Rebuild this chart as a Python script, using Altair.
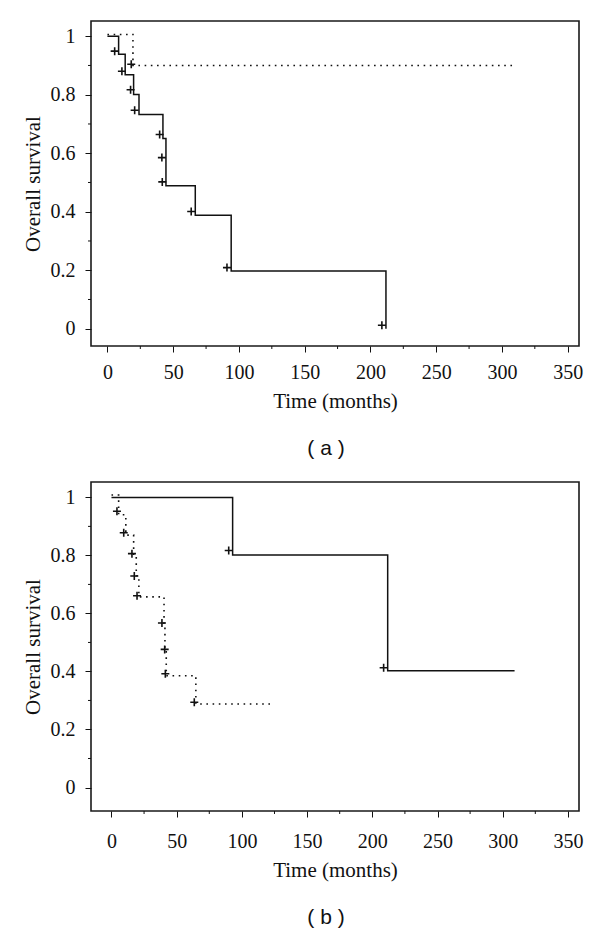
import altair as alt
import pandas as pd

# ---------------- data ----------------
x_major = [0, 50, 100, 150, 200, 250, 300, 350]
x_minor = [25, 75, 125, 175, 225, 275, 325]
y_major = [0, 0.2, 0.4, 0.6, 0.8, 1]
y_minor = [0.1, 0.3, 0.5, 0.7, 0.9]

# Panel (a)
a_solid_t = [0, 8.5, 13.5, 19.9, 24.0, 42.2, 44.5, 66.8, 94.1, 211.8]
a_solid_s = [1.0, 0.938, 0.868, 0.801, 0.732, 0.650, 0.489, 0.388, 0.197, 0.0]
a_dot_t = [0, 19.4, 308.4]
a_dot_s = [1.006, 0.900, 0.900]
a_cens_t = [5.5, 11.0, 17.6, 20.7, 39.7, 41.4, 41.7, 63.7, 90.9, 208.7, 18.1]
a_cens_s = [0.949, 0.880, 0.817, 0.747, 0.664, 0.585, 0.502, 0.401, 0.209, 0.012, 0.904]

# Panel (b)
b_solid_t = [0, 92.9, 211.8, 309.1]
b_solid_s = [1.0, 0.801, 0.402, 0.402]
b_dot_t = [0, 5.5, 11.0, 17.0, 19.0, 21.0, 40.3, 41.0, 42.0, 64.7, 122.0]
b_dot_s = [1.008, 0.94, 0.87, 0.80, 0.73, 0.657, 0.566, 0.475, 0.385, 0.288, 0.288]
b_cens_t = [4.2, 9.4, 15.7, 17.5, 19.6, 38.7, 40.8, 41.3, 63.5, 89.9, 208.7]
b_cens_s = [0.952, 0.878, 0.806, 0.729, 0.661, 0.567, 0.476, 0.392, 0.294, 0.817, 0.413]

SERIF = "Liberation Serif"
W = 488
PLUS = "M-1,0L1,0M0,-1L0,1"


def panel(solid_t, solid_s, dot_t, dot_s, cens_t, cens_s, xdom, ydom, h, caption,
          lab_pad, cap_offset):
    xs = alt.Scale(domain=xdom, nice=False, zero=False)
    ys = alt.Scale(domain=ydom, nice=False, zero=False)

    solid = pd.DataFrame({"t": solid_t, "s": solid_s})
    dot = pd.DataFrame({"t": dot_t, "s": dot_s})
    cens = pd.DataFrame({"t": cens_t, "s": cens_s})
    xmin = pd.DataFrame({"t": x_minor})
    ymin = pd.DataFrame({"s": y_minor})

    xaxis = alt.Axis(values=x_major, title="Time (months)", format="d",
                     tickSize=6, labelPadding=lab_pad, titlePadding=8)
    yaxis = alt.Axis(values=y_major, title="Overall survival",
                     labelExpr="datum.value == 0 ? '0' : datum.value == 1 ? '1' : format(datum.value, '.1f')",
                     tickSize=6, labelPadding=10, titlePadding=7)
    X = alt.X("t:Q", scale=xs, axis=xaxis, title="Time (months)")
    Y = alt.Y("s:Q", scale=ys, axis=yaxis, title="Overall survival")

    l_solid = alt.Chart(solid).mark_line(
        interpolate="step-after", color="#111", strokeWidth=1.5
    ).encode(x=X, y=Y)
    l_dot = alt.Chart(dot).mark_line(
        interpolate="step-after", color="#111", strokeWidth=1.6, strokeDash=[1.6, 4.6]
    ).encode(x=X, y=Y)
    l_cens = alt.Chart(cens).mark_point(
        shape=PLUS, size=64, filled=False, color="#111", strokeWidth=1.6, opacity=1
    ).encode(x=X, y=Y)
    l_xmin = alt.Chart(xmin).mark_rule(color="#111", strokeWidth=1).encode(
        x=X,
        y=alt.value(h),
        y2=alt.value(h + 3),
    )
    l_ymin = alt.Chart(ymin).mark_rule(color="#111", strokeWidth=1).encode(
        y=Y,
        x=alt.value(-3),
        x2=alt.value(0),
    )
    return alt.layer(l_solid, l_dot, l_cens, l_xmin, l_ymin).properties(
        width=W,
        height=h,
        title=alt.TitleParams(
            text=caption, orient="bottom", anchor="middle", frame="group",
            font="Liberation Sans", fontSize=21, fontWeight="normal",
            color="#111", offset=cap_offset, dx=-9,
        ),
    )


pa = panel(a_solid_t, a_solid_s, a_dot_t, a_dot_s, a_cens_t, a_cens_s,
           [-12.5, 358.6], [-0.059, 1.052], 325, "( a )", 10, 27)
pb = panel(b_solid_t, b_solid_s, b_dot_t, b_dot_s, b_cens_t, b_cens_s,
           [-15.7, 358.5], [-0.081, 1.053], 329, "( b )", 14, 27)

chart = alt.vconcat(pa, pb, spacing=21).properties(
    padding={"left": 13, "top": 12, "right": 5, "bottom": 5},
    background="white",
).configure_view(
    stroke="#1a1a1a", strokeWidth=1.6
).configure_axis(
    domain=False,
    grid=False,
    tickColor="#111",
    tickWidth=1,
    labelFont=SERIF,
    labelFontSize=20,
    labelColor="#111",
    titleFont=SERIF,
    titleFontSize=21,
    titleFontWeight="normal",
    titleColor="#111",
)

chart.save("out.html", embed_options={"renderer": "svg", "actions": False})
